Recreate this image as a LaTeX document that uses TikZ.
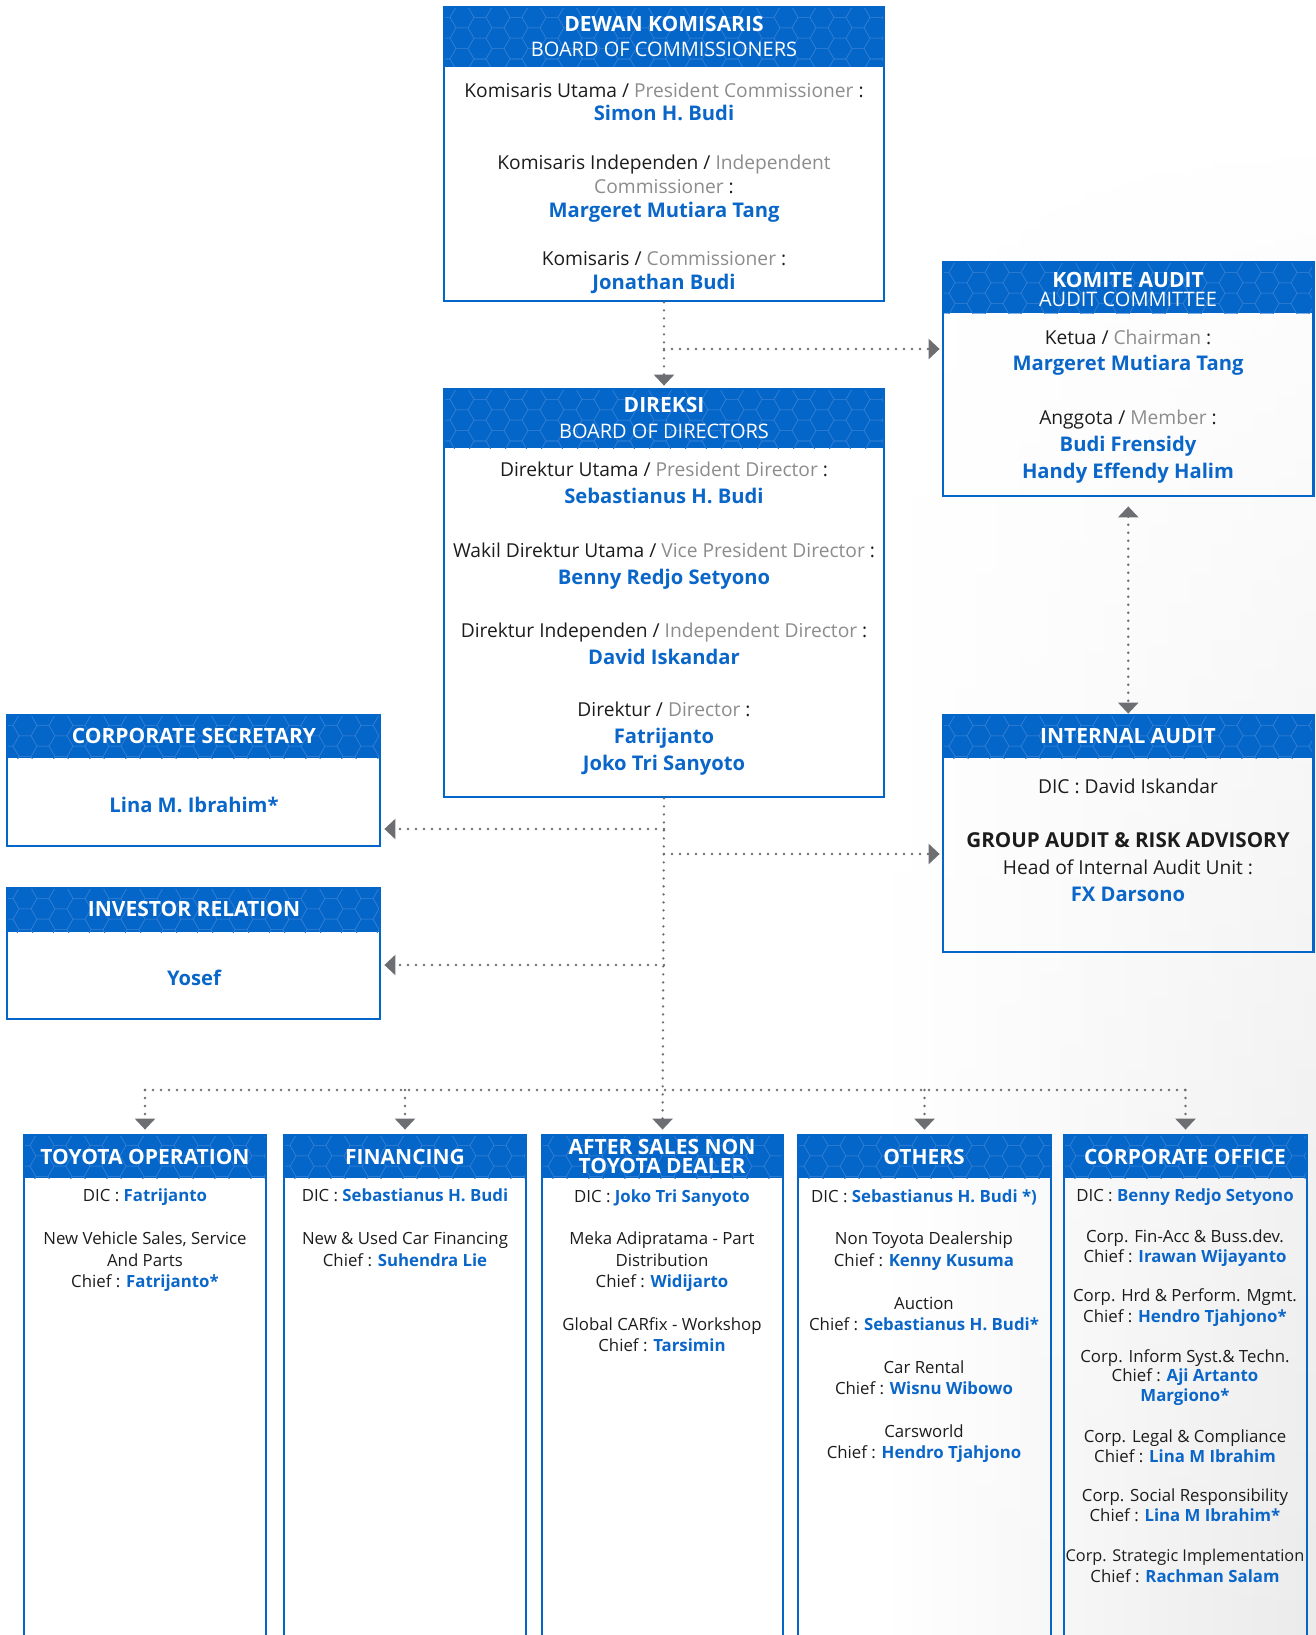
\documentclass[tikz,border=0pt]{standalone}
\usepackage{fontspec}
\setmainfont{Open Sans}
\usetikzlibrary{arrows.meta,fadings,fit}

\definecolor{headblue}{HTML}{0566C9}
\definecolor{nameblue}{HTML}{0A66C8}
\definecolor{ink}{HTML}{1C1C1C}
\definecolor{engrey}{HTML}{8C8C8C}
\definecolor{linkgrey}{HTML}{6D6E71}
\definecolor{hexblue}{HTML}{2F7DD2}

% English translations in grey, person names in bold blue
\newcommand\en[1]{\textcolor{engrey}{#1}}
\newcommand\who[1]{\textcolor{nameblue}{\bfseries #1}}

\tikzset{
  conn/.style={draw=linkgrey, line width=2.6pt, line cap=round, dash pattern=on 0pt off 8pt},
  arrowend/.style={-{Triangle[width=20pt,length=11pt]}},
  arrowboth/.style={{Triangle[width=20pt,length=11pt]}-{Triangle[width=20pt,length=11pt]}},
  frame/.style={draw=headblue, line width=2.8pt, inner sep=0pt},
  headfill/.style={fill=headblue, inner sep=0pt},
  hexline/.style={draw=hexblue, line width=0.55pt},
  txtbase/.style={inner sep=0pt, anchor=mid, yshift=-5pt},
  rl/.style={txtbase, text=ink, font=\fontsize{19.2}{23}\selectfont},
  pn/.style={txtbase, text=nameblue, font=\fontsize{20.2}{23}\selectfont\bfseries},
  sl/.style={txtbase, text=ink, font=\fontsize{16.8}{20}\selectfont},
  hb/.style={txtbase, text=white, font=\fontsize{21}{24}\selectfont\bfseries},
  hr/.style={txtbase, text=white, font=\fontsize{20}{24}\selectfont},
}

% honeycomb texture inside a header band
\newcommand\hexgrid[4]{%
  \begin{scope}
    \clip (#1,#2) rectangle (#3,#4);
    \pgfmathtruncatemacro\hexn{(#3-#1)/18+1}
    \foreach \i in {0,...,\hexn}{
      \foreach \j in {0,...,3}{
        \pgfmathsetmacro\hx{#1+18*\i}
        \pgfmathsetmacro\hy{#2+20.8*\j-10.4*mod(\i,2)}
        \draw[hexline] (\hx,\hy) +(0:12) -- +(60:12) -- +(120:12) -- +(180:12)
          -- +(240:12) -- +(300:12) -- cycle;
      }}
  \end{scope}}

% unit box: name, x1, y1, x2, y2, bottom of header band
\newcommand\orgbox[6]{%
  \node[headfill, fit={(#2,#3) (#4,#6)}] (#1-h) {};
  \hexgrid{#2}{#3}{#4}{#6}
  \node[frame, fit={(#2,#3) (#4,#5)}] (#1) {};
}

\begin{document}
\begin{tikzpicture}[x=1pt,y=-1pt]
\useasboundingbox (0,0) rectangle (1316,1635);
\clip (0,0) rectangle (1316,1635);

% soft grey backdrop on the right
\shade[left color=white, right color=black!8, path fading=north] (880,120) rectangle (1316,1635);

% ---- boxes ----
\orgbox{bc}{444}{7}{884}{301}{67}
\orgbox{ac}{943}{262}{1313.5}{496}{313}
\orgbox{dir}{444}{389}{884}{797}{448}
\orgbox{cs}{7}{715}{380}{846}{758}
\orgbox{ir}{7}{888}{380}{1019}{932}
\orgbox{ia}{943}{715}{1313.5}{952}{758}
\orgbox{to}{24}{1135}{266}{1660}{1178}
\orgbox{fin}{284}{1135}{526}{1660}{1178}
\orgbox{as}{542}{1135}{783}{1660}{1178}
\orgbox{oth}{798}{1135}{1051}{1660}{1178}
\orgbox{co}{1064}{1135}{1307}{1660}{1178}

% ---- connectors ----
\coordinate (jac) at (664,349);
\coordinate (jcs) at (664,829);
\coordinate (jia) at (664,854);
\coordinate (jir) at (664,965);
\coordinate (bus) at (664,1090);

\draw[conn, arrowend, shorten >=2pt] (bc.south) -- (dir.north);
\draw[conn, arrowend, shorten >=2pt] (jac) -- (jac -| ac.west);
\draw[conn, arrowboth, shorten <=9pt] (ac.south) -- (ia.north);
\draw[conn, arrowend, shorten >=4pt] (dir.south) -- (as.north);
\draw[conn, arrowend, shorten >=3pt] (jcs) -- (jcs -| cs.east);
\draw[conn, arrowend, shorten >=2pt] (jia) -- (jia -| ia.west);
\draw[conn, arrowend, shorten >=3pt] (jir) -- (jir -| ir.east);
\draw[conn] (bus -| to.north) -- (bus -| co.north);
\foreach \b in {to,fin,oth,co}
  \draw[conn, arrowend, shorten >=4pt] (bus -| \b.north) -- (\b.north);

% ---- board of commissioners ----
\node[hb] (bc-t1) at (664,24) {DEWAN KOMISARIS};
\node[hr] (bc-t2) at (664,49) {BOARD OF COMMISSIONERS};
\node[rl] (bc-1) at (664,90) {Komisaris Utama / \en{President Commissioner} :};
\node[pn] (bc-2) at (664,113) {Simon H. Budi};
\node[rl] (bc-3) at (664,162) {Komisaris Independen / \en{Independent}};
\node[rl] (bc-4) at (664,186) {\en{Commissioner} :};
\node[pn] (bc-5) at (664,210) {Margeret Mutiara Tang};
\node[rl] (bc-6) at (664,258) {Komisaris / \en{Commissioner} :};
\node[pn] (bc-7) at (664,282) {Jonathan Budi};

% ---- audit committee ----
\node[hb] (ac-t1) at (1128,280) {KOMITE AUDIT};
\node[hr] (ac-t2) at (1128,299) {AUDIT COMMITTEE};
\node[rl] (ac-1) at (1128,337) {Ketua / \en{Chairman} :};
\node[pn] (ac-2) at (1128,363) {Margeret Mutiara Tang};
\node[rl] (ac-3) at (1128,417) {Anggota / \en{Member} :};
\node[pn] (ac-4) at (1128,444) {Budi Frensidy};
\node[pn] (ac-5) at (1128,471) {Handy Effendy Halim};

% ---- board of directors ----
\node[hb] (dir-t1) at (664,405) {DIREKSI};
\node[hr] (dir-t2) at (664,431) {BOARD OF DIRECTORS};
\node[rl] (dir-1) at (664,469) {Direktur Utama / \en{President Director} :};
\node[pn] (dir-2) at (664,496) {Sebastianus H. Budi};
\node[rl] (dir-3) at (664,550) {Wakil Direktur Utama / \en{Vice President Director} :};
\node[pn] (dir-4) at (664,577) {Benny Redjo Setyono};
\node[rl] (dir-5) at (664,630) {Direktur Independen / \en{Independent Director} :};
\node[pn] (dir-6) at (664,657) {David Iskandar};
\node[rl] (dir-7) at (664,709) {Direktur / \en{Director} :};
\node[pn] (dir-8) at (664,736) {Fatrijanto};
\node[pn] (dir-9) at (664,763) {Joko Tri Sanyoto};

% ---- corporate secretary / investor relation ----
\node[hb] (cs-t) at (194,736) {CORPORATE SECRETARY};
\node[pn] (cs-1) at (194,805) {Lina M. Ibrahim*};
\node[hb] (ir-t) at (194,909) {INVESTOR RELATION};
\node[pn] (ir-1) at (194,978) {Yosef};

% ---- internal audit ----
\node[hb] (ia-t) at (1128,736) {INTERNAL AUDIT};
\node[rl] (ia-1) at (1128,786) {DIC : David Iskandar};
\node[rl, font=\fontsize{20.6}{23}\selectfont\bfseries] (ia-2) at (1128,840) {GROUP AUDIT \& RISK ADVISORY};
\node[rl] (ia-3) at (1128,867) {Head of Internal Audit Unit :};
\node[pn] (ia-4) at (1128,894) {FX Darsono};

% ---- toyota operation ----
\node[hb] (to-t) at (145,1157) {TOYOTA OPERATION};
\node[sl] (to-1) at (145,1194) {DIC : \who{Fatrijanto}};
\node[sl] (to-2) at (145,1237) {New Vehicle Sales, Service};
\node[sl] (to-3) at (145,1259) {And Parts};
\node[sl] (to-4) at (145,1280) {Chief : \who{Fatrijanto*}};

% ---- financing ----
\node[hb] (fin-t) at (405,1157) {FINANCING};
\node[sl] (fin-1) at (405,1194) {DIC : \who{Sebastianus H. Budi}};
\node[sl] (fin-2) at (405,1237) {New \& Used Car Financing};
\node[sl] (fin-3) at (405,1259) {Chief : \who{Suhendra Lie}};

% ---- after sales non toyota dealer ----
\node[hb] (as-t1) at (662,1147) {AFTER SALES NON};
\node[hb] (as-t2) at (662,1166) {TOYOTA DEALER};
\node[sl] (as-1) at (662,1195) {DIC : \who{Joko Tri Sanyoto}};
\node[sl] (as-2) at (662,1237) {Meka Adipratama - Part};
\node[sl] (as-3) at (662,1259) {Distribution};
\node[sl] (as-4) at (662,1280) {Chief : \who{Widijarto}};
\node[sl] (as-5) at (662,1323) {Global CARfix - Workshop};
\node[sl] (as-6) at (662,1344) {Chief : \who{Tarsimin}};

% ---- others ----
\node[hb] (oth-t) at (924,1157) {OTHERS};
\node[sl] (oth-1) at (924,1195) {DIC : \who{Sebastianus H. Budi *)}};
\node[sl] (oth-2) at (924,1237) {Non Toyota Dealership};
\node[sl] (oth-3) at (924,1259) {Chief : \who{Kenny Kusuma}};
\node[sl] (oth-4) at (924,1302) {Auction};
\node[sl] (oth-5) at (924,1323) {Chief : \who{Sebastianus H. Budi*}};
\node[sl] (oth-6) at (924,1366) {Car Rental};
\node[sl] (oth-7) at (924,1387) {Chief : \who{Wisnu Wibowo}};
\node[sl] (oth-8) at (924,1430) {Carsworld};
\node[sl] (oth-9) at (924,1451) {Chief : \who{Hendro Tjahjono}};

% ---- corporate office ----
\node[hb] (co-t) at (1185,1157) {CORPORATE OFFICE};
\node[sl] (co-1) at (1185,1194) {DIC : \who{Benny Redjo Setyono}};
\node[sl] (co-2) at (1185,1235) {Corp. Fin-Acc \& Buss.dev.};
\node[sl] (co-3) at (1185,1255) {Chief : \who{Irawan Wijayanto}};
\node[sl] (co-4) at (1185,1294) {Corp. Hrd \& Perform. Mgmt.};
\node[sl] (co-5) at (1185,1315) {Chief : \who{Hendro Tjahjono*}};
\node[sl] (co-6) at (1185,1355) {Corp. Inform Syst.\& Techn.};
\node[sl] (co-7) at (1185,1374) {Chief : \who{Aji Artanto}};
\node[sl] (co-8) at (1185,1394) {\who{Margiono*}};
\node[sl] (co-9) at (1185,1435) {Corp. Legal \& Compliance};
\node[sl] (co-10) at (1185,1455) {Chief : \who{Lina M Ibrahim}};
\node[sl] (co-11) at (1185,1494) {Corp. Social Responsibility};
\node[sl] (co-12) at (1185,1514) {Chief : \who{Lina M Ibrahim*}};
\node[sl, font=\fontsize{16.3}{20}\selectfont] (co-13) at (1185,1554) {Corp. Strategic Implementation};
\node[sl] (co-14) at (1185,1575) {Chief : \who{Rachman Salam}};
\end{tikzpicture}
\end{document}
